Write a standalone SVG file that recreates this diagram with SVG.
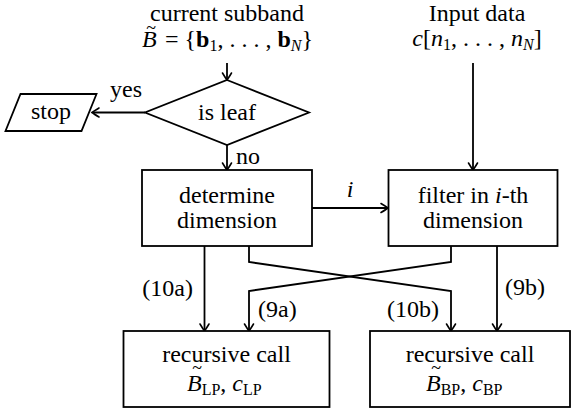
<svg xmlns="http://www.w3.org/2000/svg" width="572" height="414" viewBox="0 0 572 414">
<rect width="572" height="414" fill="#fff"/>

<g id="connectors" fill="none" stroke="#000" stroke-width="1.8">
<line x1="227" y1="63" x2="227" y2="79"/>
<line x1="145" y1="112.5" x2="93" y2="112.5"/>
<line x1="227" y1="145" x2="227" y2="169"/>
<line x1="473" y1="63" x2="473" y2="169"/>
<line x1="312" y1="208" x2="387" y2="208"/>
<line x1="204.5" y1="246" x2="204.5" y2="330"/>
<polyline points="249,246 249,262 451,291 451,330"/>
<polyline points="451,246 451,262 249,291 249,330"/>
<line x1="497" y1="246" x2="497" y2="330"/>
<g id="arrowheads" stroke-width="1.6" stroke-linecap="round">
<path d="M222.5,73 Q225.5,78 227,80 Q228.5,78 231.5,73"/>
<path d="M99,108 Q94,111 92,112.5 Q94,114 99,117"/>
<path d="M222.5,163 Q225.5,168 227,170 Q228.5,168 231.5,163"/>
<path d="M468.5,163 Q471.5,168 473,170 Q474.5,168 477.5,163"/>
<path d="M381,203.5 Q386,206.5 388,208 Q386,209.5 381,212.5"/>
<path d="M200,324 Q203,329 204.5,331 Q206,329 209,324"/>
<path d="M446.5,324 Q449.5,329 451,331 Q452.5,329 455.5,324"/>
<path d="M244.5,324 Q247.5,329 249,331 Q250.5,329 253.5,324"/>
<path d="M492.5,324 Q495.5,329 497,331 Q498.5,329 501.5,324"/>
</g>
</g>

<g font-size="24" fill="#000">

<g id="subband-label">
<text x="227" y="21" text-anchor="middle" font-family="Liberation Serif">current subband</text>
<text x="142" y="47" font-style="italic" font-family="Liberation Serif">B</text>
<text x="151" y="34" font-size="18" text-anchor="middle" font-family="Liberation Serif">~</text>
<text x="165" y="47" font-family="Liberation Serif">= {<tspan font-weight="bold">b</tspan><tspan font-size="16" dy="4">1</tspan><tspan dy="-4">, . . . , </tspan><tspan font-weight="bold">b</tspan><tspan font-size="16" font-style="italic" dy="4">N</tspan><tspan dy="-4">}</tspan></text>
</g>

<g id="input-label">
<text x="477" y="21" text-anchor="middle" font-family="Liberation Serif">Input data</text>
<text x="477" y="46" text-anchor="middle" font-family="Liberation Serif"><tspan font-style="italic">c</tspan>[<tspan font-style="italic">n</tspan><tspan font-size="16" dy="4">1</tspan><tspan dy="-4">, . . . , </tspan><tspan font-style="italic">n</tspan><tspan font-size="16" font-style="italic" dy="4">N</tspan><tspan dy="-4">]</tspan></text>
</g>

<g id="is-leaf">
<polygon points="227,80 309,112.5 227,145 145,112.5" fill="#fff" stroke="#000" stroke-width="1.8"/>
<text x="227" y="120" text-anchor="middle" font-family="Liberation Serif">is leaf</text>
</g>

<g id="stop">
<polygon points="20.5,94 96.5,94 81.5,131 5.5,131" fill="#fff" stroke="#000" stroke-width="1.8"/>
<text x="51" y="119" text-anchor="middle" font-family="Liberation Serif">stop</text>
</g>

<g id="determine-dimension">
<rect x="142" y="170" width="170" height="76" fill="#fff" stroke="#000" stroke-width="1.8"/>
<text x="227" y="203" text-anchor="middle" font-family="Liberation Serif">determine</text>
<text x="227" y="228" text-anchor="middle" font-family="Liberation Serif">dimension</text>
</g>

<g id="filter">
<rect x="388.5" y="170" width="169" height="76" fill="#fff" stroke="#000" stroke-width="1.8"/>
<text x="473" y="203" text-anchor="middle" font-family="Liberation Serif">filter in <tspan font-style="italic">i</tspan>-th</text>
<text x="473" y="228" text-anchor="middle" font-family="Liberation Serif">dimension</text>
</g>

<g id="recursive-lp">
<rect x="123.5" y="331" width="206" height="76" fill="#fff" stroke="#000" stroke-width="1.8"/>
<text x="226.5" y="362" text-anchor="middle" font-family="Liberation Serif">recursive call</text>
<text x="187" y="391" font-family="Liberation Serif"><tspan font-style="italic">B</tspan><tspan font-size="16" dy="4">LP</tspan><tspan dy="-4">, </tspan><tspan font-style="italic">c</tspan><tspan font-size="16" dy="4">LP</tspan></text>
<text x="197" y="374" font-size="18" text-anchor="middle" font-family="Liberation Serif">~</text>
</g>

<g id="recursive-bp">
<rect x="370" y="331" width="200" height="76" fill="#fff" stroke="#000" stroke-width="1.8"/>
<text x="470" y="362" text-anchor="middle" font-family="Liberation Serif">recursive call</text>
<text x="426" y="391" font-family="Liberation Serif"><tspan font-style="italic">B</tspan><tspan font-size="16" dy="4">BP</tspan><tspan dy="-4">, </tspan><tspan font-style="italic">c</tspan><tspan font-size="16" dy="4">BP</tspan></text>
<text x="436" y="374" font-size="18" text-anchor="middle" font-family="Liberation Serif">~</text>
</g>

<g id="connector-labels">
<text x="110" y="97" font-family="Liberation Serif">yes</text>
<text x="236" y="164" font-family="Liberation Serif">no</text>
<text x="350" y="197" text-anchor="middle" font-style="italic" font-family="Liberation Serif">i</text>
<text x="193" y="296" text-anchor="end" font-family="Liberation Serif">(10a)</text>
<text x="439" y="317" text-anchor="end" font-family="Liberation Serif">(10b)</text>
<text x="258" y="317" font-family="Liberation Serif">(9a)</text>
<text x="505" y="295" font-family="Liberation Serif">(9b)</text>
</g>
</g>
</svg>
